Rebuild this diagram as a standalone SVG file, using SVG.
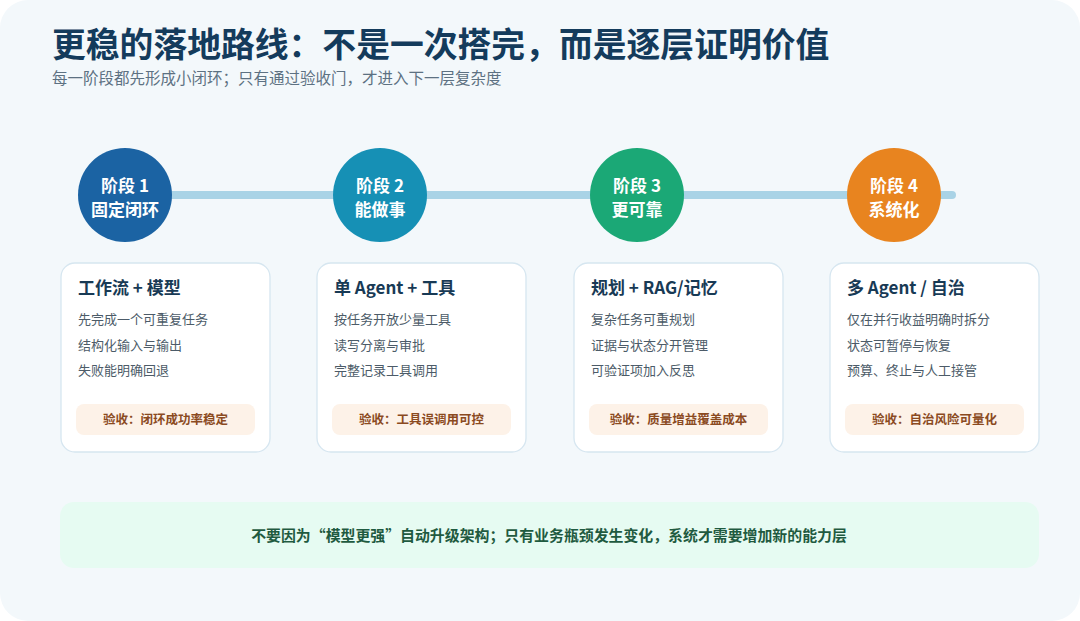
<svg xmlns="http://www.w3.org/2000/svg" width="1080" height="621" viewBox="0 0 1080 621">
<style>
text{font-family:"Noto Sans CJK SC","Noto Sans",sans-serif}
.title{font-size:33.8px;font-weight:700;fill:#143b5c}
.sub{font-size:15.5px;fill:#5d7182}
.cl{font-size:17px;font-weight:700;fill:#fff;text-anchor:middle}
.card{fill:#fff;stroke:#d6e6f0;stroke-width:1.3}
.ct{font-size:17px;font-weight:700;fill:#183a55}
.it{font-size:13px;fill:#4c5b68}
.acc{fill:#fdf2e8}
.at{font-size:12.5px;font-weight:700;fill:#8b4a1f;text-anchor:middle}
</style>
<rect x="0" y="0" width="1080" height="621" fill="#ffffff"/>
<rect x="0" y="0" width="1080" height="621" rx="28" fill="#f3f8fb"/>
<text class="title" x="52" y="57">更稳的落地路线：不是一次搭完，而是逐层证明价值</text>
<text class="sub" x="52" y="84">每一阶段都先形成小闭环；只有通过验收门，才进入下一层复杂度</text>
<g id="connectors">
<line x1="125" y1="195" x2="952" y2="195" stroke="#a9d3e6" stroke-width="8" stroke-linecap="round"/>
</g>
<g id="stage1">
<circle cx="125" cy="195" r="47" fill="#1b63a3"/>
<text class="cl" x="125" y="192">阶段 1</text>
<text class="cl" x="125" y="216">固定闭环</text>
</g>
<g id="stage2">
<circle cx="380" cy="195" r="47" fill="#1690b5"/>
<text class="cl" x="380" y="192">阶段 2</text>
<text class="cl" x="380" y="216">能做事</text>
</g>
<g id="stage3">
<circle cx="637" cy="195" r="47" fill="#1ba876"/>
<text class="cl" x="637" y="192">阶段 3</text>
<text class="cl" x="637" y="216">更可靠</text>
</g>
<g id="stage4">
<circle cx="894" cy="195" r="47" fill="#e8841f"/>
<text class="cl" x="894" y="192">阶段 4</text>
<text class="cl" x="894" y="216">系统化</text>
</g>
<g id="card1">
<rect class="card" x="61" y="263" width="209" height="189" rx="14"/>
<text class="ct" x="78" y="294">工作流 + 模型</text>
<text class="it" x="78" y="324">先完成一个可重复任务</text>
<text class="it" x="78" y="350">结构化输入与输出</text>
<text class="it" x="78" y="375">失败能明确回退</text>
<rect class="acc" x="76" y="404" width="179" height="31" rx="8"/>
<text class="at" x="165.5" y="424">验收：闭环成功率稳定</text>
</g>
<g id="card2">
<rect class="card" x="317" y="263" width="209" height="189" rx="14"/>
<text class="ct" x="334" y="294">单 Agent + 工具</text>
<text class="it" x="334" y="324">按任务开放少量工具</text>
<text class="it" x="334" y="350">读写分离与审批</text>
<text class="it" x="334" y="375">完整记录工具调用</text>
<rect class="acc" x="332" y="404" width="179" height="31" rx="8"/>
<text class="at" x="421.5" y="424">验收：工具误调用可控</text>
</g>
<g id="card3">
<rect class="card" x="574" y="263" width="209" height="189" rx="14"/>
<text class="ct" x="591" y="294">规划 + RAG/记忆</text>
<text class="it" x="591" y="324">复杂任务可重规划</text>
<text class="it" x="591" y="350">证据与状态分开管理</text>
<text class="it" x="591" y="375">可验证项加入反思</text>
<rect class="acc" x="589" y="404" width="179" height="31" rx="8"/>
<text class="at" x="678.5" y="424">验收：质量增益覆盖成本</text>
</g>
<g id="card4">
<rect class="card" x="830" y="263" width="209" height="189" rx="14"/>
<text class="ct" x="847" y="294">多 Agent / 自治</text>
<text class="it" x="847" y="324">仅在并行收益明确时拆分</text>
<text class="it" x="847" y="350">状态可暂停与恢复</text>
<text class="it" x="847" y="375">预算、终止与人工接管</text>
<rect class="acc" x="845" y="404" width="179" height="31" rx="8"/>
<text class="at" x="934.5" y="424">验收：自治风险可量化</text>
</g>
<g id="note">
<rect x="60" y="502" width="979" height="66" rx="14" fill="#e6fbf2"/>
<text x="549" y="541" text-anchor="middle" font-size="14.9" font-weight="700" fill="#1f5a40">不要因为“模型更强”自动升级架构；只有业务瓶颈发生变化，系统才需要增加新的能力层</text>
</g>
</svg>
